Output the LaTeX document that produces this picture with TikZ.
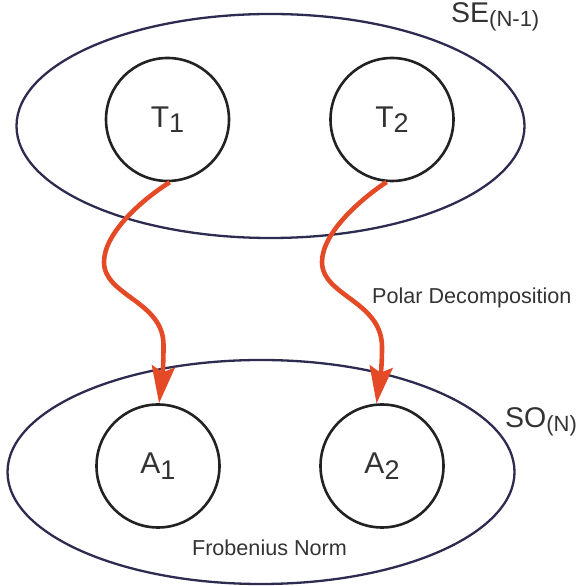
\documentclass[tikz,border=0pt]{standalone}
\usepackage{fontspec}
\setmainfont{Liberation Sans}
\usetikzlibrary{shapes.geometric,arrows.meta}
\definecolor{setline}{HTML}{2E2B50}
\definecolor{circline}{HTML}{222222}
\definecolor{arr}{HTML}{E54A26}
\definecolor{txt}{HTML}{333333}
\newcommand{\elbl}[2]{{\fontsize{30}{30}\selectfont #1}\raisebox{-5.6pt}{\fontsize{27}{27}\selectfont #2}}
\newcommand{\setlbl}[2]{{\fontsize{28.5}{28}\selectfont #1}\raisebox{-3.5pt}{\fontsize{22}{22}\selectfont #2}}
\begin{document}
\begin{tikzpicture}[x=1pt,y=1pt,
  setel/.style={draw=setline, line width=2.3pt, ellipse, inner sep=0pt},
  elem/.style={draw=circline, line width=2.6pt, circle, minimum size=123pt, inner sep=0pt, text=txt},
  maparrow/.style={draw=arr, line width=4.6pt, -{Stealth[length=37pt,width=23pt,inset=6pt]}},
  lbl/.style={text=txt, inner sep=0pt, font=\fontsize{21.6}{22}\selectfont}]
\useasboundingbox (0,0) rectangle (577,586);
\node[setel, minimum width=508pt, minimum height=224pt] (se) at (270.5,460) {};
\node[setel, minimum width=507pt, minimum height=224pt] (so) at (261,114) {};
\node[elem] (t1) at (167.5,466.5) {\elbl{T}{1}};
\node[elem] (t2) at (392,466.5) {\elbl{T}{2}};
\node[elem] (a1) at (158,120) {\elbl{A}{1}};
\node[elem] (a2) at (382,120) {\elbl{A}{2}};
\node[lbl, anchor=base west] (selbl) at (451,563.3) {\setlbl{SE}{(N-1)}};
\node[lbl, anchor=base west] (solbl) at (505,158.3) {\setlbl{SO}{(N)}};
\node[lbl, anchor=base west] (polar) at (372,282) {Polar Decomposition};
\node[lbl, anchor=base] (frob) at (269.5,30) {Frobenius Norm};
\coordinate (l1) at (104,324);
\coordinate (v1) at (163.5,241);
\coordinate (l2) at (322,324);
\coordinate (v2) at (382,239);
\draw[maparrow] (t1.-88) .. controls (140,385) and (104,352) .. (l1)
  .. controls (104,290) and (163.5,285) .. (v1)
  .. controls (163.5,215) and (162,208) .. (a1.89);
\draw[maparrow] (t2.-95) .. controls (358,385) and (322,352) .. (l2)
  .. controls (322,290) and (382,285) .. (v2)
  .. controls (382,213) and (379.5,206) .. (a2.95);
\end{tikzpicture}
\end{document}
